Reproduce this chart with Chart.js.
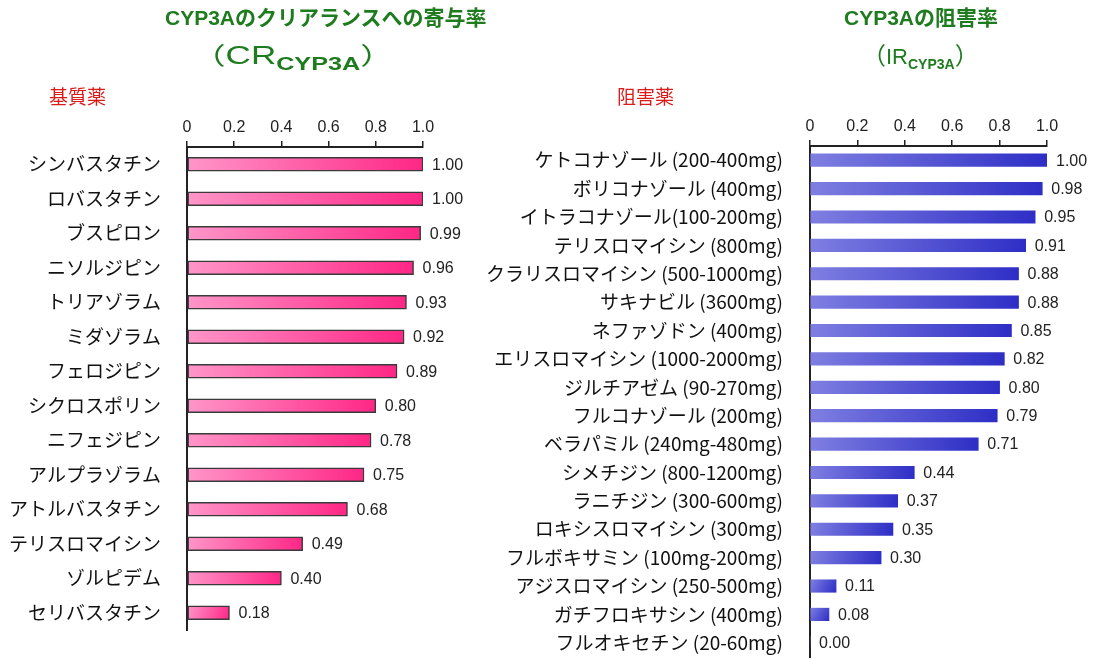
<!DOCTYPE html>
<html lang="ja">
<head>
<meta charset="utf-8">
<title>CYP3A</title>
<script src="https://cdn.jsdelivr.net/npm/chart.js@4.4.1/dist/chart.umd.min.js"></script>
<style>
  html, body { margin: 0; padding: 0; background: #fff; }
  #wrap { position: relative; width: 1094px; height: 659px; overflow: hidden; font-family: "Noto Sans CJK JP", sans-serif; }
  canvas { position: absolute; top: 0; }
  #leftChart { left: 0; }
  #rightChart { left: 480px; }
  .t1 { position: absolute; top: 6px; color: #1e7b1e; font: bold 21px "Liberation Sans", "Noto Sans CJK JP", sans-serif; line-height: 24px; white-space: nowrap; }
  .t2 { position: absolute; color: #1e7b1e; white-space: nowrap; line-height: 30px; transform-origin: left center; }
  .t2 .cr { font: 25px "Liberation Sans", sans-serif; }
  .t2 .sub { font: bold 18px "Liberation Sans", sans-serif; position: relative; top: 6px; }
  .t2 .par { font: 24px "Noto Sans CJK JP", sans-serif; }
  .t2.r .cr { font-size: 22px; }
  .t2.r .sub { font-size: 14px; top: 5px; }
  .sec { position: absolute; top: 84px; color: #dd1a1a; font: 19px "Noto Sans CJK JP", sans-serif; line-height: 24px; }
</style>
</head>
<body>
<div id="wrap">
  <canvas id="leftChart" width="470" height="659"></canvas>
  <canvas id="rightChart" width="614" height="659"></canvas>

  <div class="t1" style="left:165px;">CYP3Aのクリアランスへの寄与率</div>
  <div class="t2" style="left:192px; top:36px; transform:scaleX(1.4);"><span class="par">（</span><span class="cr">CR</span><span class="sub">CYP3A</span><span class="par">）</span></div>
  <div class="sec" style="left:49px;">基質薬</div>

  <div class="t1" style="left:844px;">CYP3Aの阻害率</div>
  <div class="t2 r" style="left:862px; top:36px;"><span class="par">（</span><span class="cr">IR</span><span class="sub">CYP3A</span><span class="par">）</span></div>
  <div class="sec" style="left:617px;">阻害薬</div>
</div>

<script>
// substrates: contribution of CYP3A to clearance
const substrateNames = [
  "シンバスタチン", "ロバスタチン", "ブスピロン", "ニソルジピン", "トリアゾラム",
  "ミダゾラム", "フェロジピン", "シクロスポリン", "ニフェジピン", "アルプラゾラム",
  "アトルバスタチン", "テリスロマイシン", "ゾルピデム", "セリバスタチン"
];
const substrateCR = [1.00, 1.00, 0.99, 0.96, 0.93, 0.92, 0.89, 0.80, 0.78, 0.75, 0.68, 0.49, 0.40, 0.18];

// inhibitors: CYP3A inhibition ratio
const inhibitorNames = [
  "ケトコナゾール (200-400mg)", "ボリコナゾール (400mg)", "イトラコナゾール(100-200mg)",
  "テリスロマイシン (800mg)", "クラリスロマイシン (500-1000mg)", "サキナビル (3600mg)",
  "ネファゾドン (400mg)", "エリスロマイシン (1000-2000mg)", "ジルチアゼム (90-270mg)",
  "フルコナゾール (200mg)", "ベラパミル (240mg-480mg)", "シメチジン (800-1200mg)",
  "ラニチジン (300-600mg)", "ロキシスロマイシン (300mg)", "フルボキサミン (100mg-200mg)",
  "アジスロマイシン (250-500mg)", "ガチフロキサシン (400mg)", "フルオキセチン (20-60mg)"
];
const inhibitorIR = [1.00, 0.98, 0.95, 0.91, 0.88, 0.88, 0.85, 0.82, 0.80, 0.79, 0.71, 0.44, 0.37, 0.35, 0.30, 0.11, 0.08, 0.00];

const axisTicks = [0, 0.2, 0.4, 0.6, 0.8, 1.0];

const valueLabels = {
  id: "valueLabels",
  afterDatasetsDraw(chart) {
    const ctx = chart.ctx;
    const data = chart.data.datasets[0].data;
    ctx.save();
    ctx.font = '16px "Liberation Sans", Arial, sans-serif';
    ctx.fillStyle = "#222";
    ctx.textAlign = "left";
    ctx.textBaseline = "middle";
    chart.getDatasetMeta(0).data.forEach((bar, i) => {
      ctx.fillText(data[i].toFixed(2), bar.x + 9, bar.y + 1);
    });
    ctx.restore();
  }
};

function makeChart(id, names, values, o) {
  return new Chart(document.getElementById(id), {
    type: "bar",
    data: {
      labels: names,
      datasets: [{
        data: values,
        barThickness: o.thick,
        borderWidth: o.border,
        borderColor: "#3a3a3a",
        borderSkipped: false,
        backgroundColor: (c) => {
          const chart = c.chart;
          if (!chart.chartArea || c.type !== "data") return o.dark;
          const x0 = chart.scales.x.getPixelForValue(0);
          const x1 = chart.scales.x.getPixelForValue(c.raw);
          const yc = chart.scales.y.getPixelForValue(c.dataIndex);
          const g = chart.ctx.createLinearGradient(x0, yc - o.thick / 2, Math.max(x1, x0 + 1), yc + o.thick / 2);
          g.addColorStop(0, o.light);
          g.addColorStop(1, o.dark);
          return g;
        }
      }]
    },
    options: {
      indexAxis: "y",
      responsive: false,
      animation: false,
      devicePixelRatio: 1,
      layout: { padding: o.pad },
      plugins: { legend: { display: false }, tooltip: { enabled: false } },
      scales: {
        x: {
          type: "linear",
          position: "top",
          min: 0,
          max: 1,
          afterBuildTicks: (s) => { s.ticks = axisTicks.map((v) => ({ value: v })); },
          afterFit: (s) => { s.height = 30; },
          grid: { drawOnChartArea: false, drawTicks: true, tickLength: 6, color: "#222", lineWidth: 1.5 },
          border: { display: true, color: "#222", width: 2 },
          ticks: {
            padding: 4,
            color: "#222",
            font: { family: '"Liberation Sans", Arial, sans-serif', size: 16 },
            callback: (v) => (v === 0 ? "0" : Number(v).toFixed(1))
          }
        },
        y: {
          // fixed width, and no extra top/bottom room for the first/last label
          afterFit: (s) => { s.width = o.yWidth; s.paddingTop = 0; s.paddingBottom = 0; },
          grid: { display: false, drawTicks: false },
          border: { display: true, color: "#222", width: 2 },
          ticks: {
            autoSkip: false,
            padding: o.labelGap,
            color: "#111",
            font: { family: '"Noto Sans CJK JP", sans-serif', size: 19 }
          }
        }
      }
    },
    plugins: [valueLabels]
  });
}

makeChart("leftChart", substrateNames, substrateCR, {
  thick: 14, border: 1.5, light: "#ff96c9", dark: "#ff2686",
  yWidth: 187, labelGap: 26,
  pad: { top: 117, right: 47, bottom: 29, left: 0 }
});

makeChart("rightChart", inhibitorNames, inhibitorIR, {
  thick: 12.5, border: 0, light: "#7f7fe2", dark: "#2e2ec6",
  yWidth: 330, labelGap: 27,
  pad: { top: 116, right: 47, bottom: 2, left: 0 }
});
</script>
</body>
</html>
